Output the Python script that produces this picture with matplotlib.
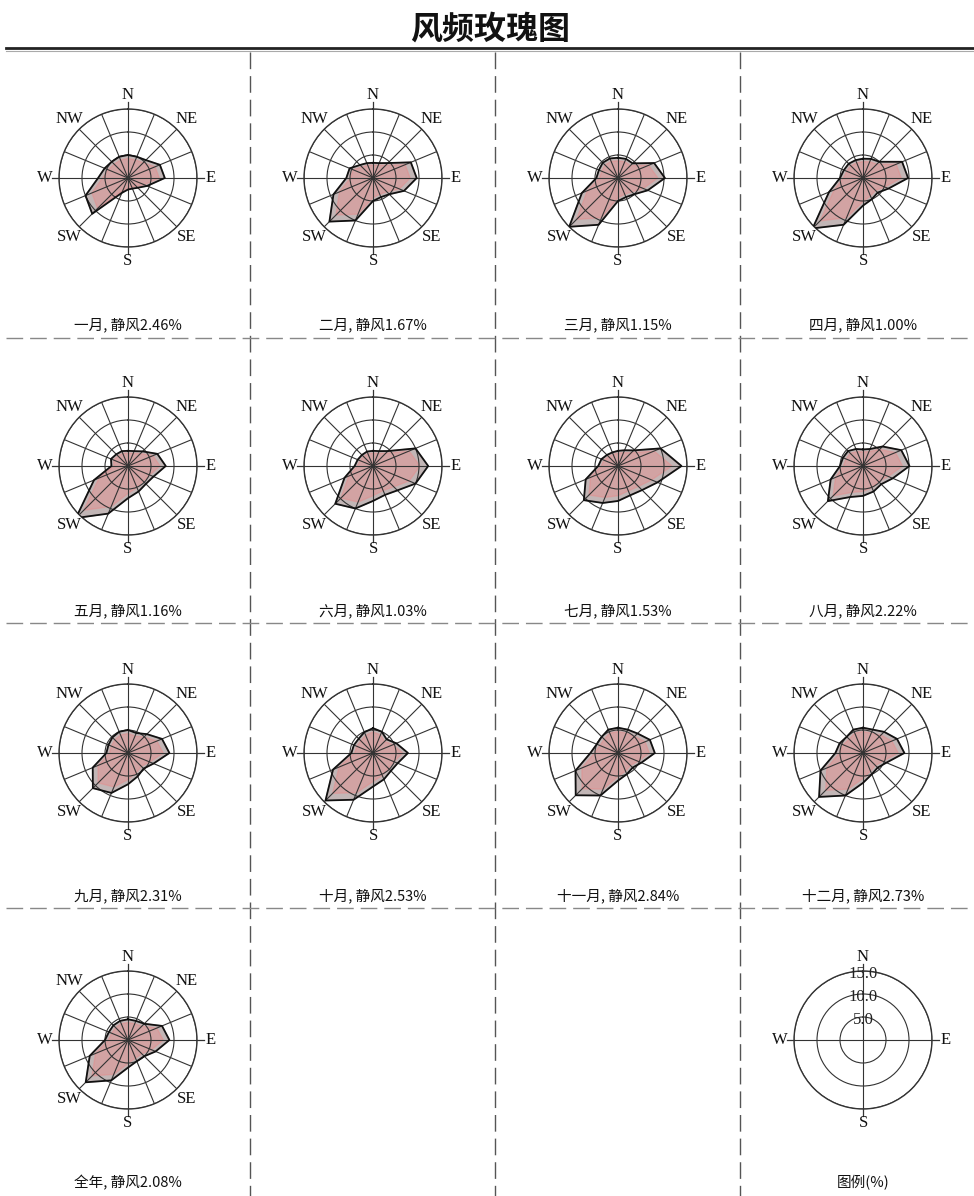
import numpy as np
import matplotlib
matplotlib.use("Agg")
import matplotlib.pyplot as plt

plt.rcParams['font.family'] = ['Noto Sans CJK SC', 'DejaVu Sans']

# 16 compass directions, clockwise from north
directions = ['N', 'NNE', 'NE', 'ENE', 'E', 'ESE', 'SE', 'SSE',
              'S', 'SSW', 'SW', 'WSW', 'W', 'WNW', 'NW', 'NNW']

# Wind direction frequency (%) per period
jan = [5.0, 5.0, 5.5, 7.5, 8.0, 4.5, 3.0, 2.5, 2.5, 3.5, 11.0, 10.0, 6.5, 5.5, 5.0, 5.0]
feb = [3.3, 3.5, 4.6, 8.9, 9.5, 7.3, 5.0, 4.5, 5.0, 10.0, 13.4, 9.3, 5.8, 5.5, 4.0, 3.5]
mar = [4.4, 4.5, 4.5, 8.5, 10.2, 7.0, 5.0, 4.5, 5.0, 11.0, 15.0, 8.5, 4.7, 4.5, 4.7, 4.6]
apr = [4.2, 4.5, 5.0, 9.2, 9.8, 6.0, 4.5, 5.0, 6.0, 11.0, 15.5, 8.0, 5.0, 4.5, 4.4, 4.2]
may = [3.3, 3.5, 4.5, 6.9, 8.2, 6.0, 5.5, 6.0, 7.0, 11.2, 16.0, 8.0, 3.6, 4.0, 3.6, 3.5]
jun = [3.3, 3.5, 4.6, 10.0, 12.0, 10.0, 7.5, 6.8, 7.6, 10.0, 11.6, 6.7, 4.0, 3.6, 3.4, 3.4]
jul = [3.3, 3.7, 4.8, 10.0, 13.8, 9.3, 7.4, 6.9, 7.6, 8.7, 10.5, 7.6, 4.3, 3.9, 3.4, 3.2]
aug = [3.6, 4.0, 6.0, 9.0, 10.1, 7.0, 5.6, 6.0, 6.5, 7.3, 10.8, 7.6, 5.0, 4.7, 4.6, 4.0]
sep = [5.0, 4.7, 5.8, 8.0, 9.0, 6.0, 4.8, 5.5, 6.8, 9.4, 10.8, 8.3, 4.7, 4.6, 4.8, 5.0]
oct_ = [5.4, 5.0, 4.2, 5.5, 7.6, 5.8, 5.5, 6.2, 7.3, 11.0, 14.6, 9.4, 4.7, 4.5, 4.4, 4.9]
nov = [5.5, 5.5, 6.0, 7.5, 8.0, 5.5, 4.5, 5.0, 6.0, 10.0, 13.0, 10.0, 6.0, 5.0, 5.0, 5.5]
dec = [5.5, 5.5, 6.5, 8.0, 9.0, 5.5, 4.5, 5.0, 6.5, 10.0, 13.5, 10.0, 6.0, 5.5, 5.0, 5.5]
year = [4.5, 4.5, 5.0, 8.0, 9.0, 6.5, 5.0, 5.0, 6.0, 9.5, 13.0, 9.0, 5.0, 4.5, 4.5, 4.5]

period_names = ['一月', '二月', '三月', '四月', '五月', '六月', '七月',
                '八月', '九月', '十月', '十一月', '十二月', '全年']
calm = [2.46, 1.67, 1.15, 1.00, 1.16, 1.03, 1.53, 2.22, 2.31, 2.53, 2.84, 2.73, 2.08]
series = [jan, feb, mar, apr, may, jun, jul, aug, sep, oct_, nov, dec, year]

ring_levels = [5, 10, 15]
compass_labels = {'N': 0, 'NE': 45, 'E': 90, 'SE': 135, 'S': 180, 'SW': 225, 'W': 270, 'NW': 315}

W, H = 974, 1196
fig = plt.figure(figsize=(W / 100, H / 100), dpi=100)

# page frame: title, rule and dashed cell dividers
bg = fig.add_axes([0, 0, 1, 1])
bg.set_xlim(0, W)
bg.set_ylim(H, 0)
bg.axis('off')
bg.text(490, 30, '风频玫瑰图', ha='center', va='center', fontsize=23, fontweight='bold', color='#111')
bg.plot([6, W], [48, 48], color='#222', lw=2.0)
bg.plot([6, W], [51, 51], color='#aaa', lw=0.8)
for x in [250, 495, 740]:
    bg.plot([x, x], [52, H], color='#555', lw=1.0, ls=(0, (12, 5)))
for y in [338, 623, 908]:
    bg.plot([6, W], [y, y], color='#888', lw=1.0, ls=(0, (12, 5)))

col_cx = [128, 373, 618, 863]
row_cy = [178, 466, 753, 1040]
label_y = [325, 611, 896, 1183]
R = 69
rmax = 15.0
theta = np.deg2rad(np.arange(16) * 22.5)
label_font = dict(family=['Liberation Serif', 'DejaVu Serif'], fontsize=12, color='#111')


def make_polar(cx, cy):
    ax = fig.add_axes([(cx - R) / W, 1 - (cy + R) / H, 2 * R / W, 2 * R / H], projection='polar')
    ax.set_theta_zero_location('N')
    ax.set_theta_direction(-1)
    ax.set_ylim(0, rmax)
    ax.set_yticklabels([])
    ax.set_xticklabels([])
    ax.spines['polar'].set_color('#333')
    ax.spines['polar'].set_linewidth(1.0)
    ax.patch.set_alpha(0)
    return ax


for i, (vals, name, c) in enumerate(zip(series, period_names, calm)):
    r, col = divmod(i, 4)
    cx, cy = col_cx[col], row_cy[r]
    ax = make_polar(cx, cy)
    ax.set_yticks(ring_levels)
    ax.set_xticks(theta)
    ax.grid(True, color='#333', lw=0.8)
    ax.set_axisbelow(False)

    v = np.array(vals + vals[:1])
    t = np.append(theta, theta[0])
    ax.fill(t, v, color='#b3a4a4', alpha=0.8, zorder=1)
    ax.fill(t, v * 0.85, color='#f08080', alpha=0.35, zorder=1)
    ax.plot(t, v, color='#111', lw=1.3, zorder=3)

    for ang in [0, 90, 180, 270]:
        a = np.deg2rad(ang)
        ax.plot([a, a], [rmax, rmax * 1.1], color='#333', lw=0.9, clip_on=False)
    for lab, ang in compass_labels.items():
        ax.text(np.deg2rad(ang), rmax * 1.2, lab, ha='center', va='center',
                clip_on=False, **label_font)

    bg.text(cx, label_y[r], f'{name}, 静风{c:.2f}%', ha='center', va='center',
            fontsize=10.5, color='#111')

# scale legend
ax = make_polar(col_cx[3], row_cy[3])
ax.set_yticks(ring_levels)
ax.set_xticks(np.deg2rad([0, 90, 180, 270]))
ax.grid(True, color='#333', lw=0.8)
for ang in [0, 90, 180, 270]:
    a = np.deg2rad(ang)
    ax.plot([a, a], [rmax, rmax * 1.1], color='#333', lw=0.9, clip_on=False)
for lab in ['N', 'E', 'S', 'W']:
    ax.text(np.deg2rad(compass_labels[lab]), rmax * 1.2, lab, ha='center', va='center',
            clip_on=False, **label_font)
for lvl in ring_levels:
    ax.text(0, lvl - 0.6, f'{lvl:.1f}', ha='center', va='center', fontsize=12,
            family=['Liberation Serif', 'DejaVu Serif'], color='#222')
bg.text(col_cx[3], label_y[3], '图例(%)', ha='center', va='center', fontsize=10.5, color='#111')

fig.savefig('out.png', dpi=100, facecolor='white')
